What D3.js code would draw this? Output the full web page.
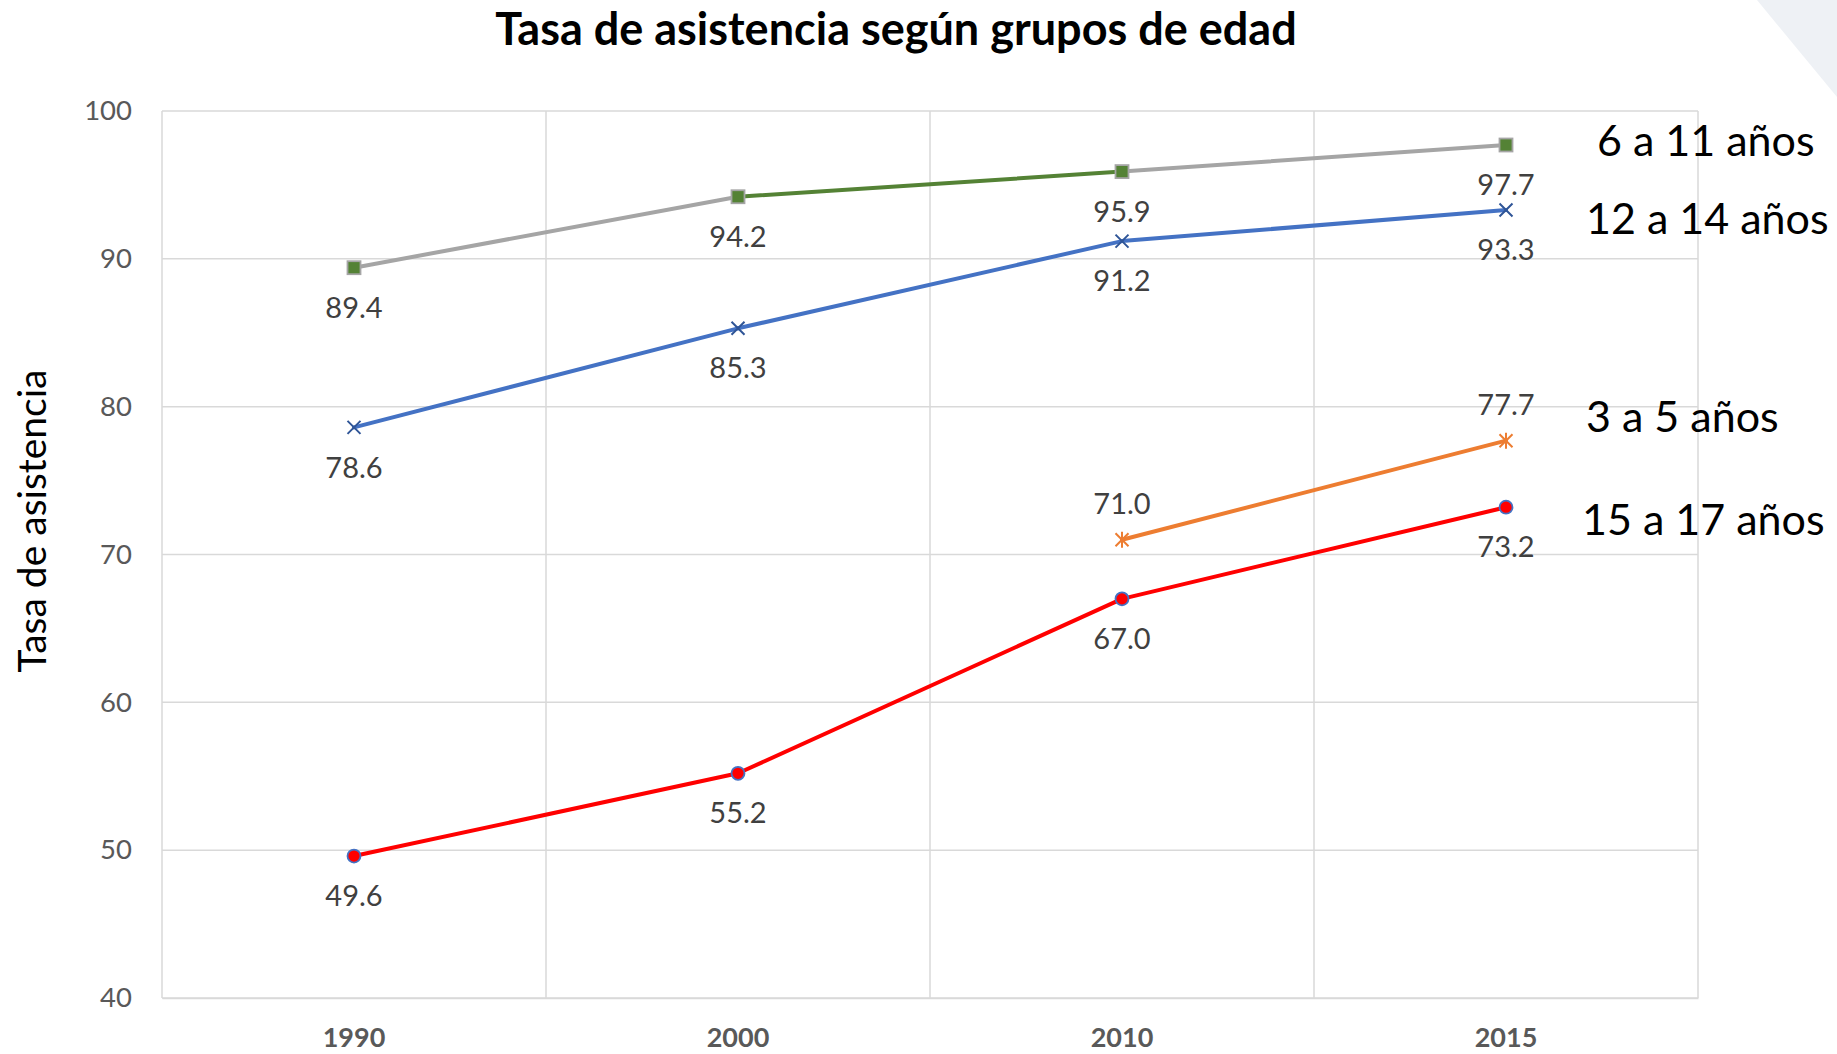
<!DOCTYPE html>
<html>
<head>
<meta charset="utf-8">
<script src="https://cdn.jsdelivr.net/npm/d3@7"></script>
<style>
  html, body { margin: 0; padding: 0; background: #fff; }
  svg { display: block; font-family: Lato, "Open Sans", sans-serif; }
</style>
</head>
<body>
<script>
const years = ["1990", "2000", "2010", "2015"];
const edad6a11 = [89.4, 94.2, 95.9, 97.7];
const edad12a14 = [78.6, 85.3, 91.2, 93.3];
const edad3a5 = [null, null, 71.0, 77.7];
const edad15a17 = [49.6, 55.2, 67.0, 73.2];
const yTicks = [40, 50, 60, 70, 80, 90, 100];
const seriesNames = ["6 a 11 años", "12 a 14 años", "3 a 5 años", "15 a 17 años"];

const w = 1837;
const h = 1054;
const margin = {top: 111, right: 139, bottom: 56, left: 162};

const svg = d3.select("body")
  .append("svg")
  .attr("width", w)
  .attr("height", h);

// faint corner decoration
svg.append("polygon")
  .attr("points", `1757,0 ${w},0 ${w},97`)
  .attr("fill", "#eef1f5");

const x = d3.scaleBand()
  .domain(years)
  .range([margin.left, w - margin.right]);

const y = d3.scaleLinear()
  .domain([40, 100])
  .range([h - margin.bottom, margin.top]);

const cx = (d) => x(d) + x.bandwidth() / 2;

// grid
svg.append("g")
  .selectAll("line")
  .data(yTicks)
  .enter()
  .append("line")
  .attr("x1", margin.left)
  .attr("x2", w - margin.right)
  .attr("y1", (d) => y(d))
  .attr("y2", (d) => y(d))
  .attr("stroke", "#d9d9d9")
  .attr("stroke-width", 1.5);

svg.append("g")
  .selectAll("line")
  .data(years.concat(["end"]))
  .enter()
  .append("line")
  .attr("x1", (d, i) => margin.left + i * x.bandwidth())
  .attr("x2", (d, i) => margin.left + i * x.bandwidth())
  .attr("y1", margin.top)
  .attr("y2", h - margin.bottom)
  .attr("stroke", "#d9d9d9")
  .attr("stroke-width", 1.5);

// axes
const yAxis = svg.append("g")
  .attr("transform", `translate(${margin.left},0)`)
  .call(d3.axisLeft(y).tickValues(yTicks).tickSize(0).tickPadding(30));
yAxis.select(".domain").remove();
yAxis.selectAll("text")
  .style("font-size", "27.5px")
  .style("font-family", "Lato, sans-serif")
  .attr("fill", "#595959");

const xAxis = svg.append("g")
  .attr("transform", `translate(0,${h - margin.bottom})`)
  .call(d3.axisBottom(x).tickSize(0).tickPadding(30));
xAxis.select(".domain").attr("stroke", "#d9d9d9").attr("stroke-width", 1.5);
xAxis.selectAll("text")
  .style("font-size", "27px")
  .style("font-weight", "bold")
  .style("font-family", "Lato, sans-serif")
  .attr("fill", "#595959");

// title + axis label
svg.append("text")
  .attr("x", 896)
  .attr("y", 45)
  .attr("text-anchor", "middle")
  .style("font-size", "45px")
  .style("font-weight", "bold")
  .text("Tasa de asistencia según grupos de edad");

svg.append("text")
  .attr("transform", "translate(46,521) rotate(-90)")
  .attr("text-anchor", "middle")
  .style("font-size", "39px")
  .text("Tasa de asistencia");

const series = [
  {values: edad6a11, colors: ["#a5a5a5", "#548235", "#a5a5a5"], marker: "square", labelPos: ["below", "below", "below", "below"]},
  {values: edad12a14, colors: ["#4472c4", "#4472c4", "#4472c4"], marker: "x", labelPos: ["below", "below", "below", "below"]},
  {values: edad3a5, colors: ["#ed7d31", "#ed7d31", "#ed7d31"], marker: "star", labelPos: ["above", "above", "above", "above"]},
  {values: edad15a17, colors: ["#ff0000", "#ff0000", "#ff0000"], marker: "circle", labelPos: ["below", "below", "below", "below"]}
];

series.forEach((s) => {
  const pts = s.values.map((v, i) => ({year: years[i], v: v, i: i})).filter((p) => p.v !== null);
  const segs = d3.pairs(pts);
  const g = svg.append("g");

  g.selectAll("line")
    .data(segs)
    .enter()
    .append("line")
    .attr("x1", (d) => cx(d[0].year))
    .attr("y1", (d) => y(d[0].v))
    .attr("x2", (d) => cx(d[1].year))
    .attr("y2", (d) => y(d[1].v))
    .attr("stroke", (d) => s.colors[d[0].i])
    .attr("stroke-width", 4)
    .attr("stroke-linecap", "round");

  const m = g.selectAll("g.mk")
    .data(pts)
    .enter()
    .append("g")
    .attr("class", "mk")
    .attr("transform", (d) => `translate(${cx(d.year)},${y(d.v)})`);

  if (s.marker === "square") {
    m.append("rect")
      .attr("x", -6.5).attr("y", -6.5).attr("width", 13).attr("height", 13)
      .attr("fill", "#548235").attr("stroke", "#a5a5a5").attr("stroke-width", 1.8);
  } else if (s.marker === "circle") {
    m.append("circle")
      .attr("r", 6.5)
      .attr("fill", "#ff0000").attr("stroke", "#4472c4").attr("stroke-width", 1.8);
  } else {
    m.append("path")
      .attr("d", s.marker === "x" ? "M-6.5,-6.5L6.5,6.5M-6.5,6.5L6.5,-6.5" : "M-6.5,-6.5L6.5,6.5M-6.5,6.5L6.5,-6.5M0,-8L0,8")
      .attr("stroke", s.marker === "x" ? "#2f5597" : "#ed7d31")
      .attr("stroke-width", 2)
      .attr("fill", "none");
  }

  g.selectAll("text")
    .data(pts)
    .enter()
    .append("text")
    .attr("x", (d) => cx(d.year))
    .attr("y", (d) => y(d.v) + (s.labelPos[d.i] === "below" ? 40 : -36))
    .attr("dy", "0.35em")
    .attr("text-anchor", "middle")
    .style("font-size", "29px")
    .attr("fill", "#404040")
    .text((d) => d.v.toFixed(1));
});

// series names on the right
const nameDy = [-4, 9, -24, 13];
const nameX = [1597, 1586, 1586, 1582];
svg.append("g")
  .selectAll("text")
  .data(series)
  .enter()
  .append("text")
  .attr("x", (d, i) => nameX[i])
  .attr("y", (d, i) => y(d.values[3]) + nameDy[i])
  .attr("dy", "0.35em")
  .style("font-size", "43px")
  .attr("fill", "#000")
  .text((d, i) => seriesNames[i]);
</script>
</body>
</html>
